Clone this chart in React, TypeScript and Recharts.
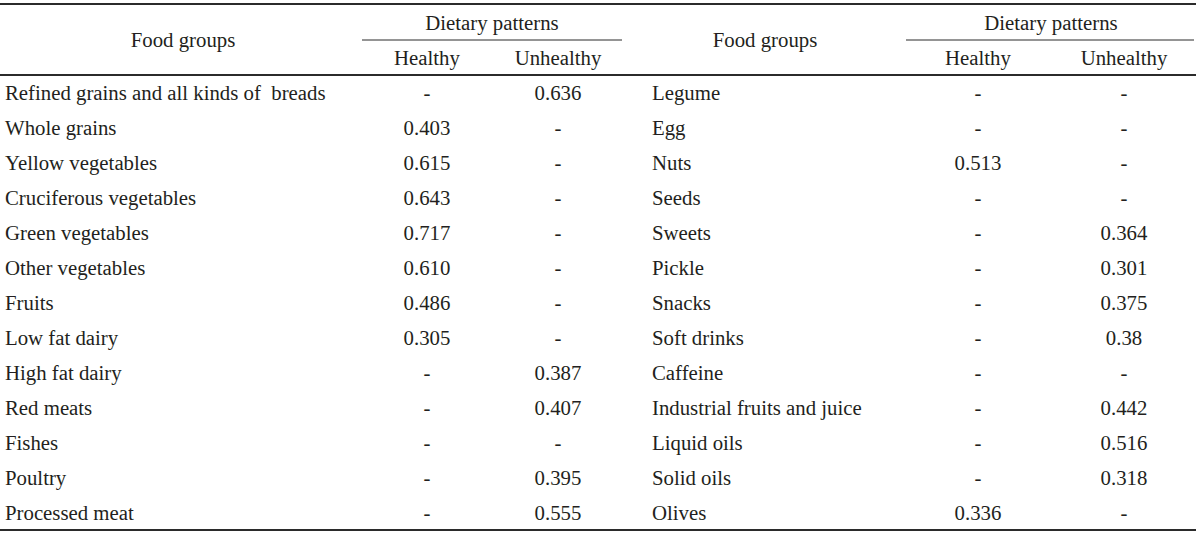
import { ScatterChart, Scatter, XAxis, YAxis, ReferenceLine } from 'recharts';

const leftFoods = [
  'Refined grains and all kinds of  breads',
  'Whole grains',
  'Yellow vegetables',
  'Cruciferous vegetables',
  'Green vegetables',
  'Other vegetables',
  'Fruits',
  'Low fat dairy',
  'High fat dairy',
  'Red meats',
  'Fishes',
  'Poultry',
  'Processed meat',
];
const leftHealthy = ['-', '0.403', '0.615', '0.643', '0.717', '0.610', '0.486', '0.305', '-', '-', '-', '-', '-'];
const leftUnhealthy = ['0.636', '-', '-', '-', '-', '-', '-', '-', '0.387', '0.407', '-', '0.395', '0.555'];

const rightFoods = [
  'Legume',
  'Egg',
  'Nuts',
  'Seeds',
  'Sweets',
  'Pickle',
  'Snacks',
  'Soft drinks',
  'Caffeine',
  'Industrial fruits and juice',
  'Liquid oils',
  'Solid oils',
  'Olives',
];
const rightHealthy = ['-', '-', '0.513', '-', '-', '-', '-', '-', '-', '-', '-', '-', '0.336'];
const rightUnhealthy = ['-', '-', '-', '-', '0.364', '0.301', '0.375', '0.38', '-', '0.442', '0.516', '0.318', '-'];

const groupHeader = 'Food groups';
const patternHeader = 'Dietary patterns';
const patternNames = ['Healthy', 'Unhealthy'];

// column anchors (px along the hidden 0..1200 x axis)
const COL = {
  leftName: 5,
  leftGroup: 183,
  leftPattern: 492,
  leftH: 427,
  leftU: 558,
  rightName: 652,
  rightGroup: 765,
  rightPattern: 1051,
  rightH: 978,
  rightU: 1124,
};

const FONT = '"Liberation Serif", "Times New Roman", serif';
const INK = '#231f20';
const RULE = '#2b2b2b';

const cells = (texts: string[], x: number) => texts.map((text, i) => ({ x, row: i + 1, text }));

const headerCells = [
  { x: COL.leftGroup, row: -0.5, text: groupHeader },
  { x: COL.rightGroup, row: -0.5, text: groupHeader },
  { x: COL.leftPattern, row: -1, text: patternHeader },
  { x: COL.rightPattern, row: -1, text: patternHeader },
  { x: COL.leftH, row: 0, text: patternNames[0] },
  { x: COL.leftU, row: 0, text: patternNames[1] },
  { x: COL.rightH, row: 0, text: patternNames[0] },
  { x: COL.rightU, row: 0, text: patternNames[1] },
];

const textShape = (anchor: 'start' | 'middle') => (props: any) => {
  const { cx, cy, payload } = props;
  return (
    <text
      x={cx}
      y={cy + 7}
      textAnchor={anchor}
      fontFamily={FONT}
      fontSize={20.8}
      fill={INK}
      style={{ whiteSpace: 'pre' }}
    >
      {payload.text}
    </text>
  );
};

const rule = (y: number, x1: number, x2: number, w: number) => (
  <ReferenceLine
    key={`${y}-${x1}`}
    segment={[{ x: x1, y }, { x: x2, y }]}
    stroke={RULE}
    strokeWidth={w}
    ifOverflow="visible"
  />
);

export default function App() {
  return (
    <div style={{ position: 'absolute', left: 0, top: 0, background: '#fff' }}>
      <ScatterChart width={1200} height={535} margin={{ top: 5, right: 0, bottom: 5, left: 0 }}>
        <XAxis type="number" dataKey="x" domain={[0, 1200]} hide />
        <YAxis type="number" dataKey="row" domain={[-1.5, 13.5]} reversed hide />
        {rule(-1.53, 0, 1196, 2)}
        {rule(-0.5, 362, 622, 1)}
        {rule(-0.5, 906, 1194, 1)}
        {rule(0.5, 0, 1196, 2)}
        {rule(13.5, 0, 1196, 2)}
        <Scatter data={headerCells} shape={textShape('middle')} isAnimationActive={false} />
        <Scatter data={cells(leftFoods, COL.leftName)} shape={textShape('start')} isAnimationActive={false} />
        <Scatter data={cells(leftHealthy, COL.leftH)} shape={textShape('middle')} isAnimationActive={false} />
        <Scatter data={cells(leftUnhealthy, COL.leftU)} shape={textShape('middle')} isAnimationActive={false} />
        <Scatter data={cells(rightFoods, COL.rightName)} shape={textShape('start')} isAnimationActive={false} />
        <Scatter data={cells(rightHealthy, COL.rightH)} shape={textShape('middle')} isAnimationActive={false} />
        <Scatter data={cells(rightUnhealthy, COL.rightU)} shape={textShape('middle')} isAnimationActive={false} />
      </ScatterChart>
    </div>
  );
}
